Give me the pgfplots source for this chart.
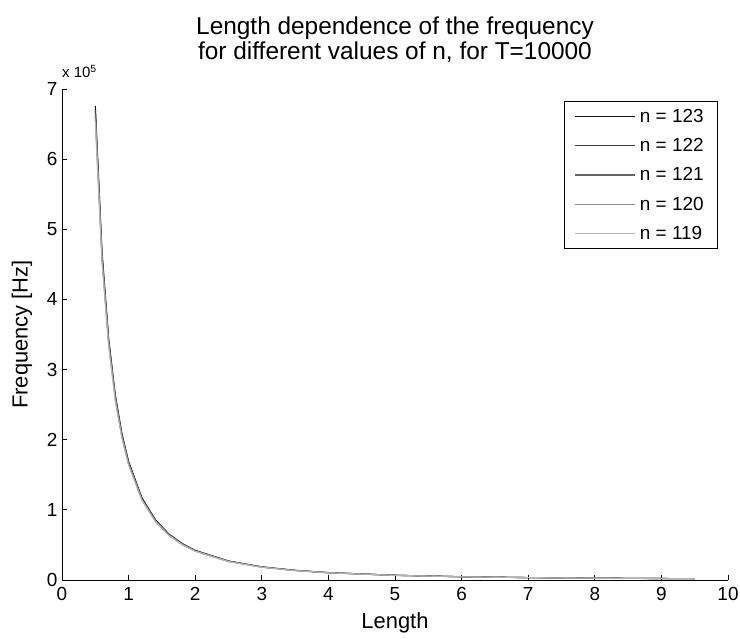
\documentclass[border=0pt]{standalone}
\usepackage{pgfplots}
\pgfplotsset{compat=1.18}
\usepackage{pgfplotstable}
\usepackage{fontspec}
\setmainfont{Liberation Sans}
\definecolor{cA}{HTML}{151515}
\definecolor{cB}{HTML}{3C3C3C}
\definecolor{cC}{HTML}{646464}
\definecolor{cD}{HTML}{8C8C8C}
\definecolor{cE}{HTML}{B4B4B4}
\pgfplotstableread{
L f123 f122 f121 f120 f119
0.5 6.760 6.705 6.650 6.595 6.540
0.6 4.694 4.656 4.618 4.580 4.541
0.7 3.449 3.421 3.393 3.365 3.337
0.8 2.641 2.620 2.598 2.577 2.555
0.9 2.086 2.069 2.052 2.035 2.018
1.0 1.690 1.676 1.663 1.649 1.635
1.2 1.174 1.164 1.155 1.145 1.136
1.4 0.862 0.855 0.848 0.841 0.834
1.6 0.660 0.655 0.649 0.644 0.639
1.8 0.522 0.518 0.514 0.509 0.505
2.0 0.4225 0.419 0.4156 0.4122 0.4088
2.5 0.2704 0.268 0.266 0.2638 0.2616
3.0 0.1878 0.1863 0.1847 0.1832 0.1817
3.5 0.1380 0.1369 0.1358 0.1346 0.1335
4.0 0.1056 0.1047 0.1039 0.1030 0.1022
5.0 0.0676 0.0671 0.0665 0.0660 0.0654
6.0 0.0469 0.0465 0.0461 0.0458 0.0454
7.0 0.0345 0.0342 0.0339 0.0337 0.0334
8.0 0.0264 0.0262 0.0260 0.0258 0.0255
9.5 0.0187 0.0185 0.0184 0.0182 0.0181
}\freq
\begin{document}
\begin{tikzpicture}
\useasboundingbox (-62bp,-59bp) rectangle (678bp,580bp);
\begin{axis}[
  at={(0,0)}, anchor=south west,
  scale only axis, width=666bp, height=491bp,
  xmin=0, xmax=10, ymin=0, ymax=7,
  xtick={0,1,...,10}, ytick={0,1,...,7},
  axis lines=left,
  axis line style={-, line width=0.8bp},
  tick align=inside,
  major tick length=5bp,
  tick style={line width=0.8bp, black},
  scaled y ticks=false,
  tick label style={font=\fontsize{19}{22}\selectfont},
  xticklabel style={yshift=-4bp},
  yticklabel style={xshift=-1bp},
  /pgf/number format/assume math mode=true,
  xlabel={Length}, ylabel={Frequency [Hz]},
  label style={font=\fontsize{22}{26}\selectfont},
  xlabel style={yshift=-5bp},
  ylabel style={yshift=8bp},
  title={Length dependence of the frequency\\ for different values of n, for T=10000},
  title style={font=\fontsize{24.5}{25}\selectfont, align=center, yshift=17bp},
  legend style={at={(rel axis cs:0.985,0.976)}, anchor=north east,
    draw=black, line width=0.8bp, font=\fontsize{19}{22}\selectfont,
    row sep=10.5bp, inner xsep=10bp, inner ysep=6bp,
    nodes={inner xsep=4bp, inner ysep=2bp}},
  legend cell align=left,
  legend image code/.code={\draw[#1, line width=1.2bp] (0cm,0cm) -- (60bp,0cm);},
  every axis plot/.append style={line width=1.1bp},
  clip=false,
]
\addplot[cA] table[x=L, y=f123] {\freq};
\addplot[cB] table[x=L, y=f122] {\freq};
\addplot[cC] table[x=L, y=f121] {\freq};
\addplot[cD] table[x=L, y=f120] {\freq};
\addplot[cE] table[x=L, y=f119] {\freq};
\legend{n = 123, n = 122, n = 121, n = 120, n = 119}
\node[anchor=south west, font=\fontsize{15}{17}\selectfont, inner sep=0pt] at (rel axis cs:0.0,1.022) {x 10\textsuperscript{5}};
\end{axis}
\end{tikzpicture}
\end{document}
